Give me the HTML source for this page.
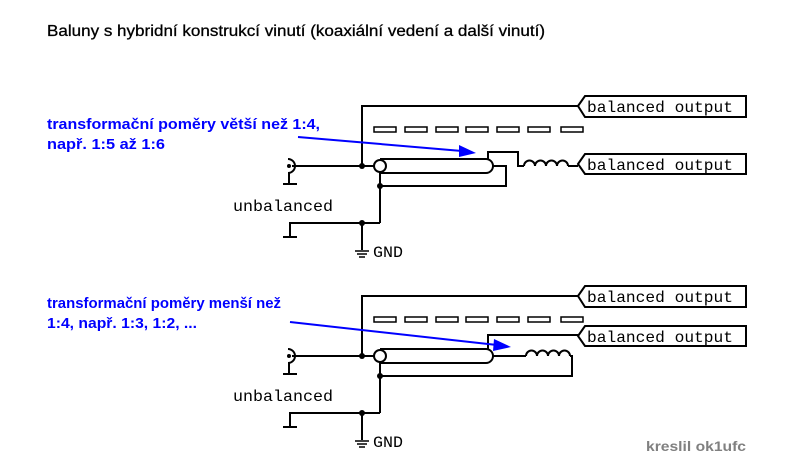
<!DOCTYPE html>
<html><head><meta charset="utf-8"><style>
html,body{margin:0;padding:0;background:#fff;}
svg{display:block;}
.m{font-family:"Liberation Mono",monospace;font-size:16px;fill:#000;}
.b{font-family:"Liberation Sans",sans-serif;font-weight:bold;font-size:15px;fill:#0000ff;}
</style></head><body>
<svg width="800" height="466" viewBox="0 0 800 466" xmlns="http://www.w3.org/2000/svg">
<defs>
<g id="common" fill="none" stroke="#000" stroke-width="2">
  <polyline points="362,166 362,106 578,106"/>
  <line x1="292" y1="166" x2="374" y2="166"/>
  <path d="M288,159 A7,7 0 0 1 288,173" />
  <circle cx="289" cy="166" r="1" fill="#000"/>
  <line x1="289" y1="173" x2="289" y2="184"/>
  <line x1="283" y1="184" x2="297" y2="184"/>
  <circle cx="380" cy="166" r="6"/>
  <line x1="380" y1="172" x2="380" y2="223"/>
  <line x1="362" y1="223" x2="380" y2="223"/>
  <polyline points="290,237 290,223 362,223"/>
  <line x1="283" y1="237" x2="297" y2="237"/>
  <line x1="362" y1="223" x2="362" y2="250"/>
  <line x1="355" y1="251" x2="369" y2="251" stroke-width="1.5"/>
  <line x1="357" y1="254" x2="367" y2="254" stroke-width="1.5"/>
  <line x1="359" y1="257" x2="365" y2="257" stroke-width="1.5"/>
  <polygon points="578,106 585,96 746,96 746,117 585,117"/>
  <g stroke-width="1.5">
  <rect x="374" y="127" width="22" height="5"/>
  <rect x="405" y="127" width="22" height="5"/>
  <rect x="436" y="127" width="22" height="5"/>
  <rect x="466" y="127" width="22" height="5"/>
  <rect x="497" y="127" width="22" height="5"/>
  <rect x="528" y="127" width="22" height="5"/>
  <rect x="561" y="127" width="22" height="5"/>
  </g>
</g>
</defs>

<text x="47" y="36" font-family="Liberation Sans, sans-serif" font-size="16" fill="#000" stroke="#000" stroke-width="0.3" textLength="498" lengthAdjust="spacingAndGlyphs">Baluny s hybridní konstrukcí vinutí (koaxiální vedení a další vinutí)</text>

<use href="#common"/>
<g fill="none" stroke="#000" stroke-width="2">
  <path d="M380,159 L486,159 A7,7 0 0 1 486,173 L380,173"/>
  <polyline points="488,159 488,152 518,152 518,166 524,166"/>
  <path d="M524,166 a5.5,5.5 0 0 1 11,0 a5.5,5.5 0 0 1 11,0 a5.5,5.5 0 0 1 11,0 a5.5,5.5 0 0 1 11,0"/>
  <line x1="568" y1="166" x2="578" y2="166"/>
  <polygon points="578,164 585,154 746,154 746,174 585,174"/>
  <polyline points="493,166 506,166 506,186 380,186"/>
</g>
<g fill="#000"><circle cx="362" cy="166" r="3"/><circle cx="380" cy="186" r="3"/><circle cx="362" cy="223" r="3"/></g>
<line x1="298" y1="137" x2="462" y2="151" stroke="#0000ff" stroke-width="2"/>
<polygon points="476,153 459,145 459,157" fill="#0000ff"/>
<text class="b" x="47" y="129" textLength="273" lengthAdjust="spacingAndGlyphs">transformační poměry větší než 1:4,</text>
<text class="b" x="47" y="149" textLength="118" lengthAdjust="spacingAndGlyphs">např. 1:5 až 1:6</text>
<text class="m" x="587" y="112" textLength="146" lengthAdjust="spacingAndGlyphs">balanced output</text>
<text class="m" x="587" y="170" textLength="146" lengthAdjust="spacingAndGlyphs">balanced output</text>
<text class="m" x="233" y="211" textLength="100" lengthAdjust="spacingAndGlyphs">unbalanced</text>
<text class="m" x="373" y="257" textLength="30" lengthAdjust="spacingAndGlyphs">GND</text>

<g transform="translate(0,190)">
<use href="#common"/>
<g fill="none" stroke="#000" stroke-width="2">
  <path d="M380,159 L486,159 A7,7 0 0 1 486,173 L380,173"/>
  <polyline points="488,159 488,145 578,145"/>
  <polygon points="578,146 585,136 746,136 746,156 585,156"/>
  <line x1="493" y1="166" x2="526" y2="166"/>
  <path d="M526,166 a5.5,5.5 0 0 1 11,0 a5.5,5.5 0 0 1 11,0 a5.5,5.5 0 0 1 11,0 a5.5,5.5 0 0 1 11,0"/>
  <polyline points="570,166 572,166 572,186 380,186"/>
</g>
<g fill="#000"><circle cx="362" cy="166" r="3"/><circle cx="380" cy="186" r="3"/><circle cx="362" cy="223" r="3"/></g>
<text class="m" x="587" y="112" textLength="146" lengthAdjust="spacingAndGlyphs">balanced output</text>
<text class="m" x="587" y="152" textLength="146" lengthAdjust="spacingAndGlyphs">balanced output</text>
<text class="m" x="233" y="211" textLength="100" lengthAdjust="spacingAndGlyphs">unbalanced</text>
<text class="m" x="373" y="257" textLength="30" lengthAdjust="spacingAndGlyphs">GND</text>
</g>
<line x1="290" y1="322" x2="497" y2="345" stroke="#0000ff" stroke-width="2"/>
<polygon points="511,347 494,339 493,351" fill="#0000ff"/>
<text class="b" x="47" y="308" textLength="234" lengthAdjust="spacingAndGlyphs">transformační poměry menší než</text>
<text class="b" x="47" y="328" textLength="150" lengthAdjust="spacingAndGlyphs">1:4, např. 1:3, 1:2, ...</text>

<text x="646" y="451" font-family="Liberation Sans, sans-serif" font-weight="bold" font-size="14" fill="#808080" textLength="100" lengthAdjust="spacingAndGlyphs">kreslil ok1ufc</text>
</svg>
</body></html>
